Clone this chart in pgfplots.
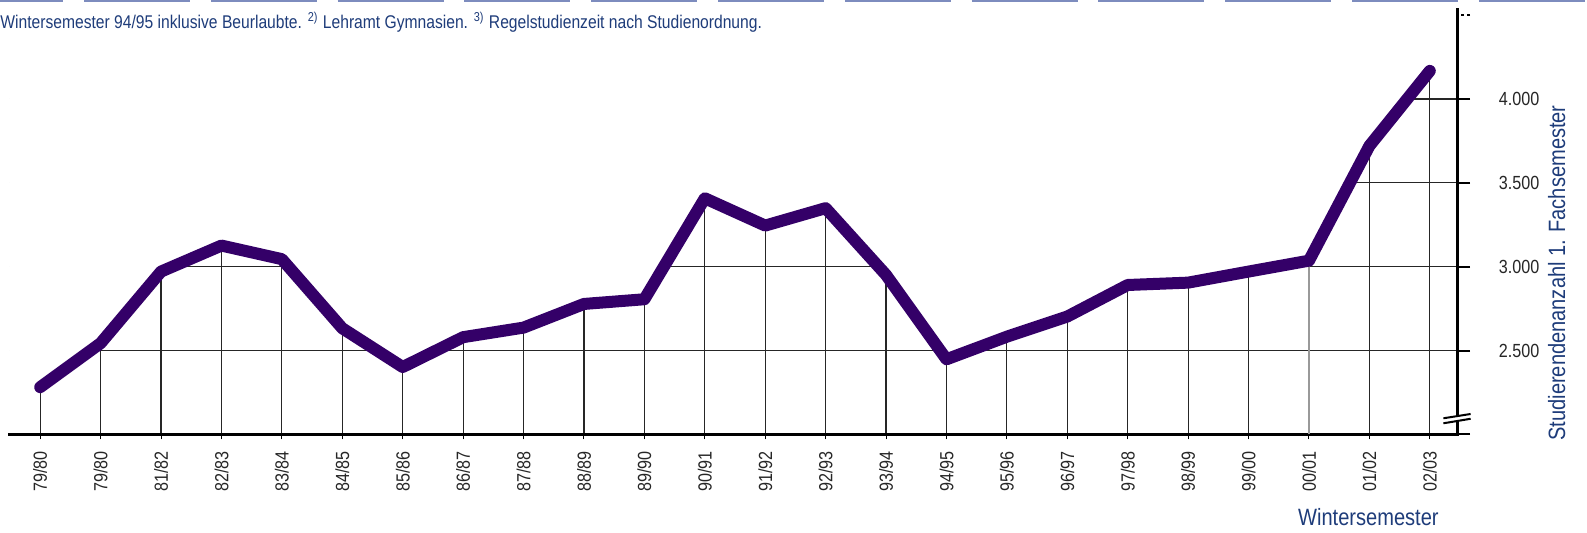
\documentclass[border=0pt]{standalone}
\usepackage{fontspec}
\setmainfont[FakeStretch=0.85]{Liberation Sans}
\usepackage{pgfplots}
\pgfplotsset{compat=1.18}
\definecolor{linepurple}{RGB}{52,0,104}
\definecolor{txtblue}{RGB}{30,60,122}
\definecolor{dashblue}{RGB}{125,140,190}
\begin{document}
\begin{tikzpicture}
\useasboundingbox (0,0) rectangle (793.5pt,266.5pt);
\begin{axis}[
  at={(5pt,49.25pt)}, anchor=south west,
  scale only axis, width=723.5pt, height=212.25pt,
  xmin=-0.5, xmax=23.45, ymin=2000, ymax=4530,
  axis x line*=bottom, axis y line*=right,
  axis line style={line width=1.5pt, line cap=rect},
  xtick={0,...,23},
  xticklabels={79/80,79/80,81/82,82/83,83/84,84/85,85/86,86/87,87/88,88/89,89/90,90/91,91/92,92/93,93/94,94/95,95/96,96/97,97/98,98/99,99/00,00/01,01/02,02/03},
  ytick={2000,2500,3000,3500,4000},
  yticklabels={{},2.500,3.000,3.500,4.000},
  extra y ticks={4500}, extra y tick labels={},
  extra y tick style={grid=none, major tick style={dash pattern=on 1.5pt off 1.5pt}},
  grid=major, grid style={black!85, line width=0.6pt},
  tick align=outside,
  xtick style={black, line width=0.5pt, /pgfplots/major tick length=2.5pt},
  ytick style={black, line width=1pt, /pgfplots/major tick length=6.5pt},
  xticklabel style={rotate=90, anchor=east, inner sep=0pt, font=\fontsize{9.5}{10}\selectfont, text=black!85},
  yticklabel style={anchor=west, inner sep=0pt, font=\fontsize{9.5}{10}\selectfont, text=black!85},
  xticklabel shift=4pt, yticklabel shift=16.5pt,
  /pgf/number format/assume math mode=true,
]
\addplot[ycomb, black!40, line width=0.6pt, mark=none] coordinates {(21,3036)};
\addplot[fill=white, draw=none, mark=none] coordinates {
  (-0.5,2282) (0,2282) (1,2544) (2,2971) (3,3126) (4,3045) (5,2633) (6,2402) (7,2580)
  (8,2637) (9,2778) (10,2806) (11,3408) (12,3245) (13,3349) (14,2951) (15,2448)
  (16,2583) (17,2703) (18,2891) (19,2905) (20,2971) (21,3036) (22,3720) (23,4167)
  (23.42,4167) (23.42,4530) (-0.5,4530)};
\addplot[linepurple, line width=6pt, line join=round, line cap=round, mark=none] coordinates {
  (0,2282) (1,2544) (2,2971) (3,3126) (4,3045) (5,2633) (6,2402) (7,2580)
  (8,2637) (9,2778) (10,2806) (11,3408) (12,3245) (13,3349) (14,2951) (15,2448)
  (16,2583) (17,2703) (18,2891) (19,2905) (20,2971) (21,3036) (22,3720) (23,4167)};
\end{axis}
\draw[dashblue, line width=1pt, dash pattern=on 53pt off 10.4pt] (-21.4pt,266pt) -- (800pt,266pt);
\node[anchor=base west, inner sep=0pt, text=txtblue, font=\fontsize{9.2}{11}\selectfont] at (0pt,252pt) {Wintersemester 94/95 inklusive Beurlaubte. \textsuperscript{2)} Lehramt Gymnasien. \textsuperscript{3)} Regelstudienzeit nach Studienordnung.};
\fill[white] (721.7pt,54.85pt) -- (735.3pt,57.1pt) -- (735.3pt,59.5pt) -- (721.7pt,57.35pt) -- cycle;
\draw[black, line width=1pt] (721.7pt,54.85pt) -- (735.3pt,57.1pt);
\draw[black, line width=1pt] (721.7pt,57.35pt) -- (735.3pt,59.5pt);
\node[anchor=base east, inner sep=0pt, text=txtblue, font=\fontsize{11.8}{13}\selectfont] at (719.5pt,3.5pt) {Wintersemester};
\node[rotate=90, anchor=base, inner sep=0pt, text=txtblue, font=\fontsize{11.8}{13}\selectfont] at (782.5pt,130pt) {Studierendenanzahl 1. Fachsemester};
\end{tikzpicture}
\end{document}
